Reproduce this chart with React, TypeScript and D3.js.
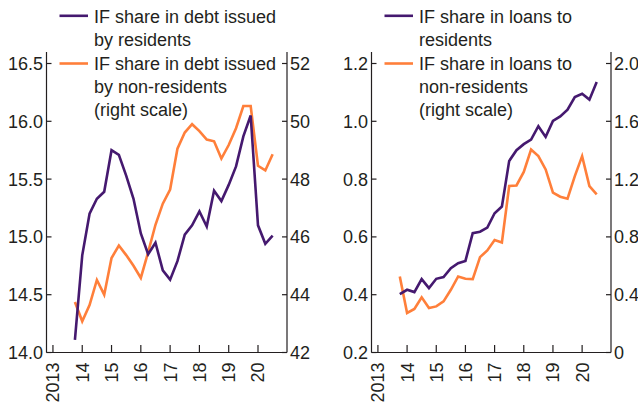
import React from "react";
import * as d3 from "d3";

// Quarterly observations, 2013Q4 .. 2020Q3
const quarters: number[] = d3.range(28).map((i) => 2013.75 + i * 0.25);

const debtResidents: number[] = [
  14.11, 14.84, 15.2, 15.33, 15.39, 15.75, 15.71, 15.53, 15.33, 15.03, 14.85, 14.95, 14.71, 14.63,
  14.79, 15.02, 15.1, 15.22, 15.09, 15.4, 15.31, 15.45, 15.61, 15.87, 16.05, 15.1, 14.94, 15.01,
];
const debtNonResidents: number[] = [
  43.75, 43.08, 43.64, 44.51, 44.0, 45.27, 45.7, 45.37, 45.0, 44.58, 45.47, 46.42, 47.15, 47.64,
  49.05, 49.61, 49.9, 49.66, 49.37, 49.31, 48.71, 49.18, 49.76, 50.53, 50.53, 48.46, 48.3, 48.86,
];
const loansResidents: number[] = [
  0.402, 0.417, 0.409, 0.454, 0.423, 0.455, 0.461, 0.492, 0.509, 0.517, 0.613, 0.618, 0.632, 0.682,
  0.705, 0.863, 0.9, 0.921, 0.937, 0.983, 0.946, 1.001, 1.017, 1.04, 1.084, 1.095, 1.075, 1.136,
];
const loansNonResidents: number[] = [
  0.526, 0.274, 0.301, 0.382, 0.308, 0.319, 0.354, 0.434, 0.526, 0.51, 0.508, 0.66, 0.706, 0.779,
  0.761, 1.152, 1.156, 1.25, 1.405, 1.359, 1.267, 1.106, 1.078, 1.064, 1.221, 1.359, 1.152, 1.094,
];

const yearTicks: number[] = [2013, 2014, 2015, 2016, 2017, 2018, 2019, 2020];
const yearLabels: string[] = ["2013", "14", "15", "16", "17", "18", "19", "20"];

const leftTicksA: number[] = [14.0, 14.5, 15.0, 15.5, 16.0, 16.5];
const rightTicksA: number[] = [42, 44, 46, 48, 50, 52];
const leftTicksB: number[] = [0.2, 0.4, 0.6, 0.8, 1.0, 1.2];
const rightTicksB: number[] = [0, 0.4, 0.8, 1.2, 1.6, 2.0];

const legendA: string[][] = [
  ["IF share in debt issued", "by residents"],
  ["IF share in debt issued", "by non-residents", "(right scale)"],
];
const legendB: string[][] = [
  ["IF share in loans to", "residents"],
  ["IF share in loans to", "non-residents", "(right scale)"],
];

const PURPLE = "#45196f";
const ORANGE = "#ff7f3a";
const INK = "#231f20";
const FONT = "'Liberation Sans', Arial, sans-serif";

type PanelProps = {
  x0: number;
  x1: number;
  left: number[];
  right: number[];
  leftDomain: [number, number];
  rightDomain: [number, number];
  leftTicks: number[];
  rightTicks: number[];
  leftFmt: (v: number) => string;
  rightFmt: (v: number) => string;
  legend: string[][];
};

const Y_BOTTOM = 352.5;
const Y_TOP_TICK = 63.5;
const Y_AXIS_TOP = 52;

function Panel(p: PanelProps) {
  const x = d3.scaleLinear().domain([2012.78, 2020.99]).range([p.x0, p.x1]);
  const yL = d3.scaleLinear().domain(p.leftDomain).range([Y_BOTTOM, Y_TOP_TICK]);
  const yR = d3.scaleLinear().domain(p.rightDomain).range([Y_BOTTOM, Y_TOP_TICK]);
  const lineL = d3
    .line<number>()
    .x((_, i) => x(quarters[i]))
    .y((d) => yL(d));
  const lineR = d3
    .line<number>()
    .x((_, i) => x(quarters[i]))
    .y((d) => yR(d));

  const legendYs = [15.8, 63.5];
  const baseline0 = [22.5, 69.5];
  return (
    <g>
      {/* legend */}
      {p.legend.map((lines, k) => (
        <g key={k}>
          <line
            x1={p.x0 + 13}
            x2={p.x0 + 41.5}
            y1={legendYs[k]}
            y2={legendYs[k]}
            stroke={k === 0 ? PURPLE : ORANGE}
            strokeWidth={2.6}
          />
          {lines.map((t, j) => (
            <text
              key={j}
              x={p.x0 + 47.5}
              y={baseline0[k] + j * 23.3}
              fontSize={18}
              fill={INK}
              fontFamily={FONT}
            >
              {t}
            </text>
          ))}
        </g>
      ))}

      {/* axes */}
      <line x1={p.x0} x2={p.x0} y1={Y_AXIS_TOP} y2={Y_BOTTOM} stroke={INK} strokeWidth={1.2} />
      <line x1={p.x1} x2={p.x1} y1={Y_AXIS_TOP} y2={Y_BOTTOM} stroke={INK} strokeWidth={1.2} />
      <line x1={p.x0} x2={p.x1} y1={Y_BOTTOM} y2={Y_BOTTOM} stroke={INK} strokeWidth={1.2} />

      {p.leftTicks.map((v) => (
        <g key={"l" + v}>
          <line x1={p.x0} x2={p.x0 + 5} y1={yL(v)} y2={yL(v)} stroke={INK} strokeWidth={1.2} />
          <text
            x={p.x0 - 3.5}
            y={yL(v)}
            dy="0.36em"
            textAnchor="end"
            fontSize={18}
            fill={INK}
            fontFamily={FONT}
          >
            {p.leftFmt(v)}
          </text>
        </g>
      ))}
      {p.rightTicks.map((v) => (
        <g key={"r" + v}>
          <line x1={p.x1 - 5} x2={p.x1} y1={yR(v)} y2={yR(v)} stroke={INK} strokeWidth={1.2} />
          <text
            x={p.x1 + 3}
            y={yR(v)}
            dy="0.36em"
            textAnchor="start"
            fontSize={18}
            fill={INK}
            fontFamily={FONT}
          >
            {p.rightFmt(v)}
          </text>
        </g>
      ))}
      {yearTicks.map((v, i) => (
        <g key={"x" + v}>
          <line x1={x(v)} x2={x(v)} y1={Y_BOTTOM} y2={Y_BOTTOM - 7.5} stroke={INK} strokeWidth={1.2} />
          <text
            transform={`translate(${x(v)},${Y_BOTTOM + 10}) rotate(-90)`}
            dy="0.36em"
            textAnchor="end"
            fontSize={18}
            fill={INK}
            fontFamily={FONT}
          >
            {yearLabels[i]}
          </text>
        </g>
      ))}

      {/* series */}
      <path d={lineR(p.right) || ""} fill="none" stroke={ORANGE} strokeWidth={2.6} strokeLinejoin="miter" />
      <path d={lineL(p.left) || ""} fill="none" stroke={PURPLE} strokeWidth={2.6} strokeLinejoin="miter" />
    </g>
  );
}

export default function App() {
  const f1 = d3.format(".1f");
  const fInt = d3.format("d");
  const fB = (v: number) => (v === 0 ? "0" : d3.format(".1f")(v));
  return (
    <svg
      width={638}
      height={407}
      style={{ position: "absolute", left: 0, top: 0, background: "#fff" }}
    >
      <rect width={638} height={407} fill="#fff" />
      <Panel
        x0={46.5}
        x1={287}
        left={debtResidents}
        right={debtNonResidents}
        leftDomain={[14, 16.5]}
        rightDomain={[42, 52]}
        leftTicks={leftTicksA}
        rightTicks={rightTicksA}
        leftFmt={f1}
        rightFmt={fInt}
        legend={legendA}
      />
      <Panel
        x0={371.5}
        x1={611}
        left={loansResidents}
        right={loansNonResidents}
        leftDomain={[0.2, 1.2]}
        rightDomain={[0, 2.0]}
        leftTicks={leftTicksB}
        rightTicks={rightTicksB}
        leftFmt={f1}
        rightFmt={fB}
        legend={legendB}
      />
    </svg>
  );
}
